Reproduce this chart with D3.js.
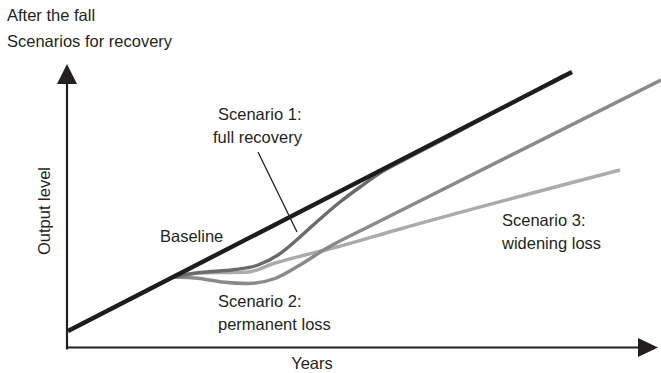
<!DOCTYPE html>
<html>
<head>
<meta charset="utf-8">
<script src="https://cdn.jsdelivr.net/npm/d3@7"></script>
<style>
  html, body { margin: 0; padding: 0; background: #fff; }
  svg { display: block; }
  text { font-family: "Liberation Sans", Arial, Helvetica, sans-serif; font-size: 16.5px; fill: #231f20; }
</style>
</head>
<body>
<svg id="chart" width="661" height="373"></svg>
<script>
// Data (abstract chart units: x = years since start, y = output level)
const baseline  = [[0, 17], [504, 276]];
const scenario1 = [[104, 71], [132, 75.5], [167, 78.5], [190, 83], [210, 93], [232, 111], [252, 129], [272, 146], [292, 161], [312, 175], [332, 186], [382, 212], [497, 273]];
const scenario2 = [[104, 71], [132, 69.5], [154, 66], [180, 64.5], [207, 69.5], [232, 83], [259, 100], [302, 122], [593, 268]];
const scenario3 = [[104, 71], [130, 75], [180, 76], [207, 85], [237, 93], [269, 101], [332, 119], [552, 178]];
const titleLines = ["After the fall", "Scenarios for recovery"];
const xLabel = "Years";
const yLabel = "Output level";

const svg = d3.select("#chart");
const x = d3.scaleLinear().domain([0, 593]).range([68, 661]);
const y = d3.scaleLinear().domain([0, 300]).range([348, 48]);

const line = d3.line().x(d => x(d[0])).y(d => y(d[1])).curve(d3.curveMonotoneX);

// Axes
const axisColor = "#231f20";
svg.append("line").attr("x1", 67).attr("x2", 67).attr("y1", y(-1.5)).attr("y2", 80)
  .attr("stroke", axisColor).attr("stroke-width", 2.2);
svg.append("path").attr("d", "M67,64 L57,84 L77,84 Z").attr("fill", axisColor);
svg.append("line").attr("x1", 66).attr("x2", 642).attr("y1", 347.5).attr("y2", 347.5)
  .attr("stroke", axisColor).attr("stroke-width", 2.2);
svg.append("path").attr("d", "M658,347.5 L638,338 L638,357 Z").attr("fill", axisColor);

// Series
const series = [
  { data: scenario3, color: "#ababab", w: 3.4 },
  { data: scenario2, color: "#8a8a8a", w: 3.4 },
  { data: scenario1, color: "#6b6b6b", w: 3.4 },
  { data: baseline,  color: "#1e1c1d", w: 4.4 }
];
svg.selectAll("path.series").data(series).join("path")
  .attr("class", "series")
  .attr("d", d => line(d.data))
  .attr("fill", "none")
  .attr("stroke", d => d.color)
  .attr("stroke-width", d => d.w)
  .attr("stroke-linecap", "butt");

// Leader line for scenario 1
svg.append("line").attr("x1", 258).attr("y1", 152).attr("x2", 297).attr("y2", 232)
  .attr("stroke", "#231f20").attr("stroke-width", 1.3);

// Titles
svg.append("text").attr("x", 7).attr("y", 21).text(titleLines[0]);
svg.append("text").attr("x", 7).attr("y", 47).text(titleLines[1]);

// Axis labels
svg.append("text").attr("x", 312).attr("y", 369).attr("text-anchor", "middle").text(xLabel);
svg.append("text").attr("transform", "translate(50,211) rotate(-90)").attr("text-anchor", "middle").text(yLabel);

// Annotations
const notes = [
  { x: 160, y: 242, t: "Baseline" },
  { x: 218, y: 120, t: "Scenario 1:" },
  { x: 213, y: 143, t: "full recovery" },
  { x: 218, y: 307, t: "Scenario 2:" },
  { x: 218, y: 330, t: "permanent loss" },
  { x: 502, y: 226, t: "Scenario 3:" },
  { x: 502, y: 249, t: "widening loss" }
];
svg.selectAll("text.note").data(notes).join("text")
  .attr("class", "note").attr("x", d => d.x).attr("y", d => d.y).text(d => d.t);
</script>
</body>
</html>
